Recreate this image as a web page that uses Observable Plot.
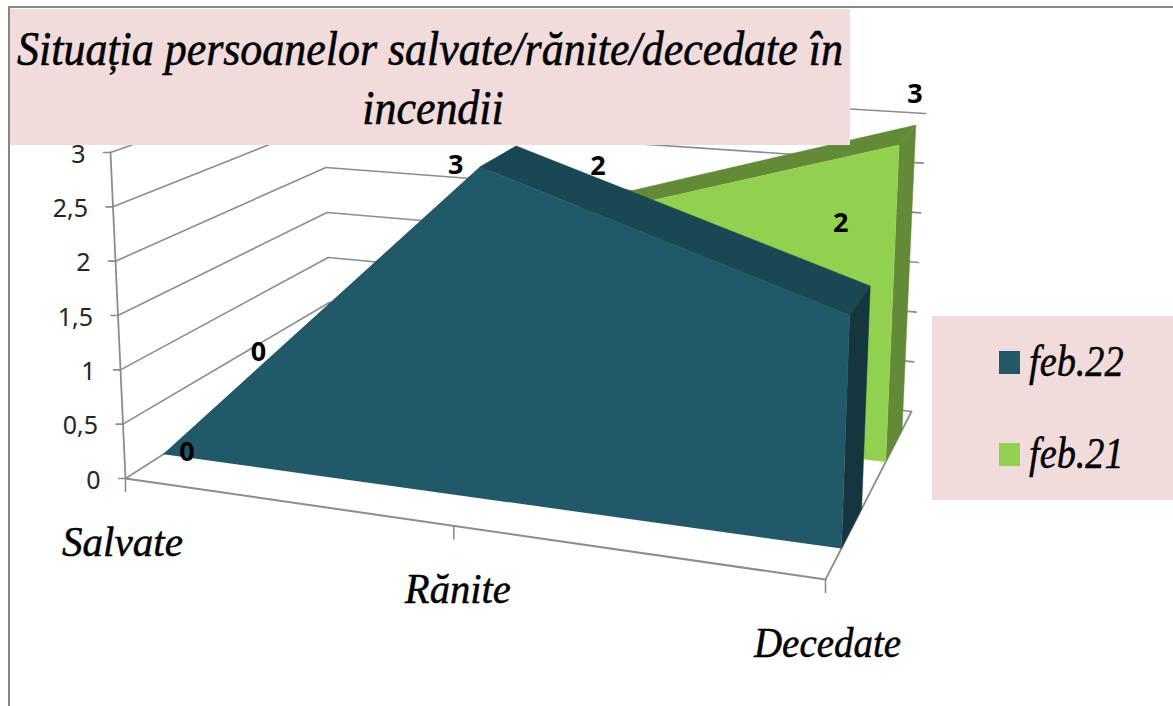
<!DOCTYPE html>
<html lang="ro">
<head>
<meta charset="utf-8">
<script src="https://cdn.jsdelivr.net/npm/d3@7"></script>
<script src="https://cdn.jsdelivr.net/npm/@observablehq/plot@0.6"></script>
<style>
html,body{margin:0;padding:0;width:1173px;height:706px;overflow:hidden;background:#fff}
#wrap{position:relative;width:1173px;height:706px}
#wrap svg{position:absolute;left:0;top:0;display:block}
#frame{position:absolute;left:8px;top:6px;right:-10px;bottom:-10px;border-left:2.5px solid #868686;border-top:2.5px solid #868686}
#title{position:absolute;left:10px;top:9px;width:840px;height:136px;background:#f2dcdb;text-align:center;
 font:italic 400 48px/59px "Liberation Serif",serif;color:#000;-webkit-text-stroke:.6px #000;white-space:nowrap;padding-top:10px;box-sizing:border-box}
#title span{display:block;transform:scaleX(.915);transform-origin:50% 50%;margin:0 -100px}
#title span+span{position:relative;left:3px}
#legend{position:absolute;left:932px;top:316px;width:241px;height:184px;background:#f2dcdb}
.key{position:absolute;left:67px;display:flex;align-items:center;font:italic 400 44px/46px "Liberation Serif",serif;-webkit-text-stroke:.5px #000;color:#000}
.key i{display:block;width:21px;height:23px;margin-right:9px}
.key span{display:block;transform:scaleX(.87);transform-origin:0 50%}
</style>
</head>
<body>
<div id="wrap"></div>
<script>
// ---- chart data ----
const chartTitle = ["Situația persoanelor salvate/rănite/decedate în", "incendii"];
const categories = ["Salvate", "Rănite", "Decedate"];
const seriesNames = ["feb.22", "feb.21"];
const feb22 = [0, 3, 2];
const feb21 = [0, 2, 3];
const valueTicks = [0, 0.5, 1, 1.5, 2, 2.5, 3];
const tickLabels = ["0", "0,5", "1", "1,5", "2", "2,5", "3"];

// ---- styles ----
const blue = {front: "#215968", top: "#1a4754", side: "#15363f", swatch: "#215968"};
const green = {front: "#92d050", top: "#638a37", side: "#638a37", swatch: "#92d050"};
const grid = "#8c8c8c";
const sans = "'Noto Sans',sans-serif";

// ---- oblique view of the chart box: 3-D (category, depth, value) -> screen ----
const W = 1173, H = 706, vMax = 3;
const box = {
  fl0: [125, 478], fl3: [110, 152], bl0: [330, 347], bl3: [323, 77],
  fr0: [825, 579], fr3: [837, 218], br0: [911, 411], br3: [925, 113]
};
const persp = 1.132;
const mix = (a, b, s) => [a[0] + (b[0] - a[0]) * s, a[1] + (b[1] - a[1]) * s];
function project(i, depth, value) {
  const t = i / (categories.length - 1);
  const u = t === 0 ? 0 : t / (t + persp * (1 - t));
  const w = value / vMax;
  const left = mix(mix(box.fl0, box.bl0, depth), mix(box.fl3, box.bl3, depth), w);
  const right = mix(mix(box.fr0, box.br0, depth), mix(box.fr3, box.br3, depth), w);
  const [x, y] = mix(left, right, u);
  return {x, y};
}
const lastCat = categories.length - 1;

// polygons of one series' ribbon
function ribbon(values, d0, d1) {
  const front = [
    project(0, d0, 0),
    ...values.map((v, i) => project(i, d0, v)),
    project(lastCat, d0, 0)
  ];
  const tops = values.slice(1).map((v, k) => [
    project(k, d0, values[k]), project(k, d1, values[k]),
    project(k + 1, d1, v), project(k + 1, d0, v)
  ]);
  const side = [
    project(lastCat, d0, values[lastCat]), project(lastCat, d1, values[lastCat]),
    project(lastCat, d1, 0), project(lastCat, d0, 0)
  ];
  return {front, tops, side};
}
const poly = (pts, fill) => Plot.line(pts, {x: "x", y: "y", fill, stroke: fill, strokeWidth: 0.5, curve: "linear"});
const ribbonMarks = (r, c) => [
  ...r.tops.map(p => poly(p, c.top)), poly(r.side, c.side), poly(r.front, c.front)
];
const seg = (a, b, w = 1.6) => Plot.line([a, b], {x: "x", y: "y", stroke: grid, strokeWidth: w});

const greenR = ribbon(feb21, 0.70, 0.89);
const blueR = ribbon(feb22, 0.185, 0.42);

// grid, axis lines and ticks
const gridMarks = [];
valueTicks.forEach(v => {
  const p = project(0, 0, v);
  if (v > 0) {
    gridMarks.push(seg(p, project(0, 1, v)));
    gridMarks.push(seg(project(0, 1, v), project(lastCat, 1, v)));
  }
  gridMarks.push(seg(p, {x: p.x - 7, y: p.y}));
});
const floor = [
  seg(project(0, 0, 0), project(lastCat, 0, 0), 2),
  seg(project(lastCat, 0, 0), project(lastCat, 1, 0), 1.8),
  seg(project(lastCat, 1, 0), project(0, 1, 0)),
  seg(project(0, 1, 0), project(0, 0, 0)),
  seg(project(0, 0, 0), project(0, 0, vMax), 1.8)
];

// labels
const valueLabelRows = valueTicks.map((v, i) => ({...project(0, 0, v), text: tickLabels[i]}));
const catTicks = categories.map((c, i) => project(i, 0, 0));
const catDx = [-3, 4, 2];
const catWidths = [121, 106, 147];
const labelOffsets = {
  feb22: [[0, 13], [-42, 9], [-19, -78]],
  feb21: [[-29, -23], [25, -45], [8, -41]]
};
function dataLabels(values, depth, offs) {
  return values.map((v, i) => Plot.text([{...project(i, depth, v), text: String(v)}], {
    x: "x", y: "y", text: "text", dx: offs[i][0], dy: offs[i][1],
    fontFamily: sans, fontWeight: 700, fontSize: 27, fill: "#000"
  }));
}

const chart = Plot.plot({
  width: W, height: H, margin: 0,
  x: {type: "linear", domain: [0, W], range: [0, W], axis: null},
  y: {type: "linear", domain: [0, H], range: [0, H], axis: null},
  marks: [
    ...gridMarks,
    ...floor,
    Plot.text(valueLabelRows, {x: "x", y: "y", text: "text", dx: -25, dy: 2, textAnchor: "end",
      fontFamily: sans, fontSize: 25, fill: "#262626"}),
    ...catTicks.map(p => seg(p, {x: p.x, y: p.y + 13})),
    ...categories.map((c, i) => Plot.text([{...project(i, 0, 0), text: c}], {
      x: "x", y: "y", text: "text", dx: catDx[i], dy: 64, className: "catlabel",
      fontFamily: "Liberation Serif", fontStyle: "italic", fontSize: 42, stroke: "#000", strokeWidth: 0.5, fill: "#000"})),
    ...ribbonMarks(greenR, green),
    ...ribbonMarks(blueR, blue),
    ...dataLabels(feb22, 0.30, labelOffsets.feb22),
    ...dataLabels(feb21, 0.79, labelOffsets.feb21)
  ]
});

// fit the category labels to the width they take in the chart
chart.querySelectorAll(".catlabel text").forEach((t, i) => {
  t.setAttribute("textLength", catWidths[i]);
  t.setAttribute("lengthAdjust", "spacingAndGlyphs");
});

const wrap = document.getElementById("wrap");
wrap.appendChild(chart);

const frame = document.createElement("div"); frame.id = "frame"; wrap.appendChild(frame);
const titleBox = document.createElement("div"); titleBox.id = "title";
chartTitle.forEach(line => {
  const s = document.createElement("span"); s.textContent = line; titleBox.appendChild(s);
});
wrap.appendChild(titleBox);
const legend = document.createElement("div"); legend.id = "legend";
const legendColors = [blue.swatch, green.swatch];
const legendTops = [23, 115];
seriesNames.forEach((n, i) => {
  const k = document.createElement("div"); k.className = "key"; k.style.top = legendTops[i] + "px";
  const sw = document.createElement("i"); sw.style.background = legendColors[i];
  const tx = document.createElement("span"); tx.textContent = n;
  k.appendChild(sw); k.appendChild(tx); legend.appendChild(k);
});
wrap.appendChild(legend);
</script>
</body>
</html>
